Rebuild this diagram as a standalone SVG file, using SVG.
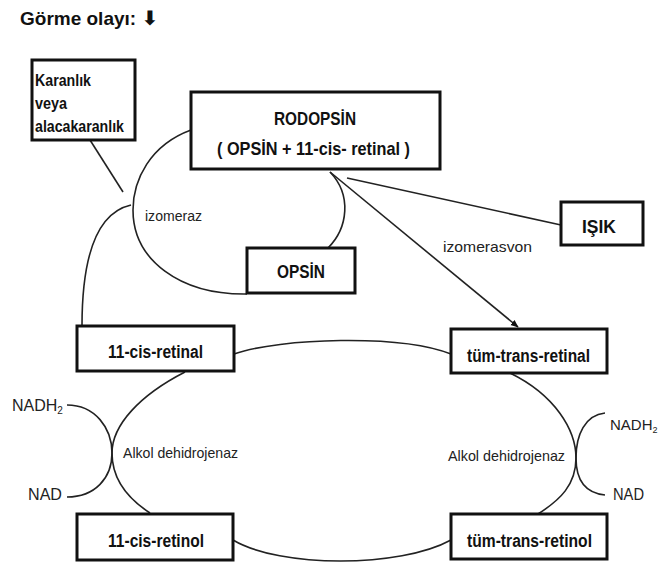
<svg xmlns="http://www.w3.org/2000/svg" width="660" height="564" viewBox="0 0 660 564">
<defs>
<style>
.box{fill:#fff;stroke:#111;stroke-width:3}
.b{font-family:"Liberation Sans",Arial,sans-serif;font-weight:bold;fill:#111}
.r{font-family:"Liberation Sans",Arial,sans-serif;fill:#222}
.ln{fill:none;stroke:#222;stroke-width:1.6}
</style>
<marker id="ah" viewBox="0 0 10 10" refX="9" refY="5" markerWidth="8" markerHeight="8" markerUnits="userSpaceOnUse" orient="auto">
<path d="M0,1 L10,5 L0,9 z" fill="#111"/>
</marker>
</defs>
<rect width="660" height="564" fill="#fff"/>
<g id="title">
<text class="b" x="20" y="25" font-size="19">Görme olayı: <tspan font-family="DejaVu Sans,sans-serif" font-size="20">⬇</tspan></text>
</g>
<g id="connectors">
<path class="ln" d="M90 140 L123 192"/>
<path class="ln" d="M191 130 C150 145,133 180,133 210 C133 260,180 295,247 294"/>
<path class="ln" d="M131 205 C100 212,82 250,82 326"/>
<path class="ln" d="M330 172 C352 195,348 228,328 248"/>
<path class="ln" d="M347 178 L561 225"/>
<path class="ln" d="M330 172 L518 327" marker-end="url(#ah)"/>
<path class="ln" d="M234 354 C280 338,400 334,451 354"/>
<path class="ln" d="M233 540 C280 568,400 568,451 540"/>
<path class="ln" d="M185 372 C140 395,112 425,112 453 C112 480,130 500,150 513"/>
<path class="ln" d="M67 405 C95 405,112 428,112 453 C112 478,95 497,67 497"/>
<path class="ln" d="M510 373 C555 395,576 430,576 458 C576 485,560 500,538 514"/>
<path class="ln" d="M605 413 C585 415,576 435,576 458 C576 480,585 493,605 495"/>
</g>
<g id="karanlik">
<rect class="box" x="32" y="60" width="103" height="80"/>
<text class="b" x="35" y="86" font-size="16" textLength="56" lengthAdjust="spacingAndGlyphs">Karanlık</text>
<text class="b" x="35" y="109" font-size="16" textLength="32" lengthAdjust="spacingAndGlyphs">veya</text>
<text class="b" x="35" y="132" font-size="16" textLength="89" lengthAdjust="spacingAndGlyphs">alacakaranlık</text>
</g>
<g id="rodopsin">
<rect class="box" x="191" y="92" width="249" height="77"/>
<text class="b" x="274" y="125" font-size="19" textLength="82" lengthAdjust="spacingAndGlyphs">RODOPSİN</text>
<text class="b" x="217" y="155" font-size="19" textLength="193" lengthAdjust="spacingAndGlyphs">( OPSİN  + 11-cis- retinal )</text>
</g>
<g id="opsin">
<rect class="box" x="247" y="248" width="108" height="45"/>
<text class="b" x="277" y="278" font-size="18" textLength="48" lengthAdjust="spacingAndGlyphs">OPSİN</text>
</g>
<g id="isik">
<rect class="box" x="561" y="202" width="82" height="43"/>
<text class="b" x="582" y="233" font-size="18" textLength="34" lengthAdjust="spacingAndGlyphs">IŞIK</text>
</g>
<g id="cis-retinal">
<rect class="box" x="77" y="326" width="157" height="45"/>
<text class="b" x="108" y="358" font-size="18" textLength="95" lengthAdjust="spacingAndGlyphs">11-cis-retinal</text>
</g>
<g id="trans-retinal">
<rect class="box" x="451" y="329" width="156" height="44"/>
<text class="b" x="467" y="362" font-size="18" textLength="123" lengthAdjust="spacingAndGlyphs">tüm-trans-retinal</text>
</g>
<g id="cis-retinol">
<rect class="box" x="77" y="514" width="156" height="46"/>
<text class="b" x="108" y="547" font-size="18" textLength="96" lengthAdjust="spacingAndGlyphs">11-cis-retinol</text>
</g>
<g id="trans-retinol">
<rect class="box" x="451" y="514" width="156" height="45"/>
<text class="b" x="467" y="547" font-size="18" textLength="125" lengthAdjust="spacingAndGlyphs">tüm-trans-retinol</text>
</g>
<g id="labels">
<text class="r" x="145" y="221" font-size="14" textLength="57" lengthAdjust="spacingAndGlyphs">izomeraz</text>
<text class="r" x="443" y="252" font-size="15" textLength="89" lengthAdjust="spacingAndGlyphs">izomerasvon</text>
<text class="r" x="123" y="458" font-size="15" textLength="115" lengthAdjust="spacingAndGlyphs">Alkol dehidrojenaz</text>
<text class="r" x="448" y="461" font-size="15" textLength="117" lengthAdjust="spacingAndGlyphs">Alkol dehidrojenaz</text>
<text class="r" x="12" y="411" font-size="16">NADH<tspan font-size="10" dy="3">2</tspan></text>
<text class="r" x="28" y="500" font-size="16" textLength="34" lengthAdjust="spacingAndGlyphs">NAD</text>
<text class="r" x="610" y="430" font-size="15">NADH<tspan font-size="9" dy="3">2</tspan></text>
<text class="r" x="613" y="500" font-size="16" textLength="31" lengthAdjust="spacingAndGlyphs">NAD</text>
</g>
</svg>
